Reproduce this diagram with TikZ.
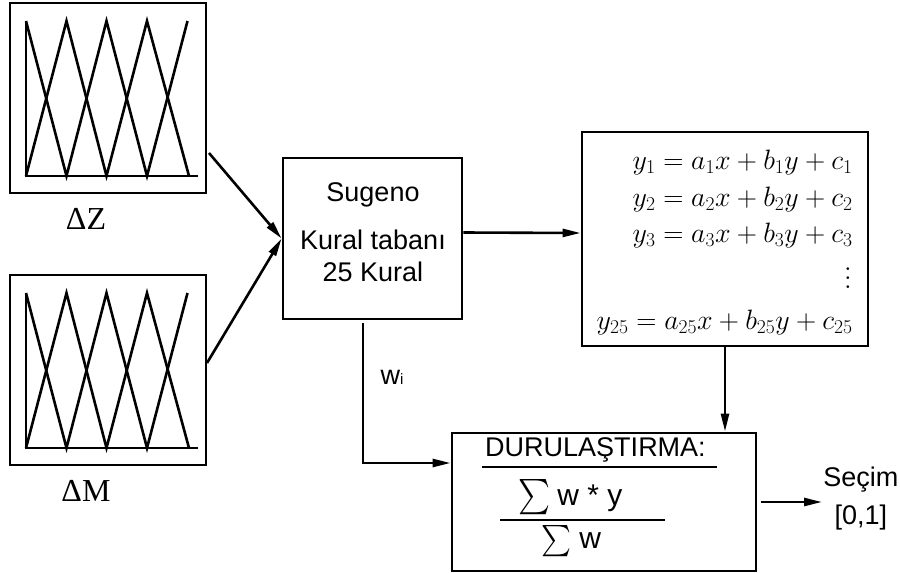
\RequirePackage{fix-cm}
\documentclass[tikz,border=0pt]{standalone}
\usepackage[no-math]{fontspec}
\setmainfont{Liberation Sans}
\newfontfamily\labelfont{Liberation Serif}
\usepackage{tikz}
\usetikzlibrary{arrows.meta, calc, positioning}
\tikzset{
  block/.style={draw, line width=2.8pt, inner sep=0pt},
  txt/.style={font=\fontsize{27}{32}\selectfont, inner sep=0pt, align=center},
  frac/.style={font=\fontsize{30}{32}\selectfont, inner sep=0pt, anchor=base west},
  eqn/.style={font=\fontsize{28}{32}\selectfont, inner sep=0pt, anchor=east},
  deltalbl/.style={font=\labelfont\fontsize{32}{32}\selectfont, inner sep=0pt},
}

\begin{document}
\begin{tikzpicture}[x=1pt, y=-1pt, line width=2.6pt, >={Triangle[length=18pt,width=8pt]}]
    \useasboundingbox (0,0) rectangle (900,573);
    % input membership functions
    \node[block, minimum width=196pt, minimum height=190pt] (plotZ) at (108,98) {};
    \draw (26,21) -- (26,176) -- (198,176);
    \draw (26,21) -- (66.5,176) -- (106.5,21) -- (147,176) -- (187.5,21);
    \draw (26,176) -- (66.5,21) -- (106.5,176) -- (147,21) -- (189,176);
    \node[deltalbl] (lblZ) at (86,219) {ΔZ};
    \begin{scope}[shift={(0,272)}]
        \node[block, minimum width=196pt, minimum height=190pt] (plotM) at (108,98) {};
        \draw (26,21) -- (26,176) -- (198,176);
        \draw (26,21) -- (66.5,176) -- (106.5,21) -- (147,176) -- (187.5,21);
        \draw (26,176) -- (66.5,21) -- (106.5,176) -- (147,21) -- (189,176);
        \node[deltalbl] (lblM) at (86,219) {ΔM};
    \end{scope}
    \coordinate (zOut) at (209,153);
    \coordinate (mOut) at (207,363);
    % rule base
    \node[block, minimum width=179pt, minimum height=161pt] (sugeno) at (372.5,238.5) {};
    \node[txt] (sugenoTxt) at (373,232) {Sugeno\\[16pt]Kural tabanı\\25 Kural};
    \draw[->] (zOut) -- (sugeno.west);
    \draw[->] (mOut) -- (sugeno.west);
    % rule outputs
    \node[block, minimum width=286pt, minimum height=214pt] (rules) at (725,239) {};
    \node[eqn] (eq1) at (854,162) {$y_1 = a_1x + b_1y + c_1$};
    \node[eqn] (eq2) at (854,199) {$y_2 = a_2x + b_2y + c_2$};
    \node[eqn] (eq3) at (854,235) {$y_3 = a_3x + b_3y + c_3$};
    \node[eqn, font=\fontsize{28}{9}\selectfont, align=center] (eqDots) at (853,278) {$.$\\$.$\\$.$};
    \node[eqn] (eq25) at (854,322) {$y_{25} = a_{25}x + b_{25}y + c_{25}$};
    \draw[->] ([yshift=6pt]sugeno.east) -- ([yshift=6pt]rules.west);
    % defuzzification
    \node[block, minimum width=304pt, minimum height=138pt] (duru) at (604,502) {};
    \node[txt] (duruTitle) at (595.5,450) {DURULAŞTIRMA:};
    \draw[line width=2.2pt] (482,467) -- (717,467);
    \node[frac] (num) at (517,505) {\raisebox{-18.7pt}{\resizebox*{32pt}{44pt}{$\sum$}}\hspace{7pt}w * y};
    \draw[line width=2.2pt] (500,520) -- (665,520);
    \node[frac] (den) at (540,548) {\raisebox{-16.7pt}{\resizebox*{30pt}{39pt}{$\sum$}}\hspace{8pt}w};
    \draw[->] (rules.south) -- (rules.south |- duru.north);
    \coordinate (wTop) at (363,323);
    \draw[->] (wTop) |- ([yshift=39pt]duru.west);
    \node[txt] (wLbl) at (392,377) {w{\fontsize{15}{15}\selectfont i}};
    % output
    \node[txt, font=\fontsize{27}{38}\selectfont, anchor=west] (secim) at (822,499) {Seçim\\{[0,1]}};
    \draw[->] ([xshift=4pt]duru.east) -- (duru.east -| secim.west);
\end{tikzpicture}
\end{document}
